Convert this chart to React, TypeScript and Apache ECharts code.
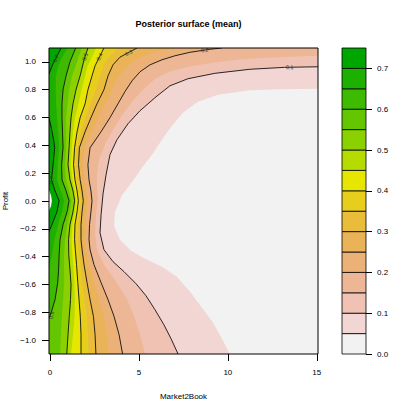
import React, { useEffect, useRef } from "react";
import * as echarts from "echarts";

const FONT = "'Liberation Sans', Arial, Helvetica, sans-serif";

// axis extents (data units)
const xRange = [-0.06, 15.07];
const yRange = [-1.1, 1.1];
const xTicks = [0, 5, 10, 15];
const yTicks = [-1.0, -0.8, -0.6, -0.4, -0.2, 0.0, 0.2, 0.4, 0.6, 0.8, 1.0];
const legendTicks = [0, 0.1, 0.2, 0.3, 0.4, 0.5, 0.6, 0.7];

// colour key (band lower bounds and colours)
const bandBreaks = [0, 0.05, 0.1, 0.15, 0.2, 0.25, 0.3, 0.35, 0.4, 0.45, 0.5, 0.55, 0.6, 0.65, 0.7, 0.75];
const bandColors = [
  "#F2F2F2", "#F1D6D3", "#EFC2B3", "#EDB694", "#ECB176", "#EAB358", "#E9BD3A", "#E7CE1D",
  "#E6E600", "#B6DB00", "#8BD000", "#63C600", "#3EBB00", "#1DB000", "#00A600",
];

// contour boundaries: [Market2Book, Profit]
const z005 = [[15.07,0.807],[12.92,0.803],[11.24,0.796],[9.44,0.764],[8.31,0.713],[7.47,0.634],[6.85,0.540],[6.29,0.440],[5.73,0.333],[5.17,0.239],[4.66,0.146],[4.04,0.040],[3.65,-0.077],[3.60,-0.178],[3.93,-0.278],[4.55,-0.357],[5.34,-0.415],[6.29,-0.472],[7.13,-0.544],[7.87,-0.652],[8.54,-0.767],[9.16,-0.874],[9.66,-0.989],[10.11,-1.1]];
const z010 = [[15.07,0.965],[13.20,0.961],[11.24,0.947],[9.27,0.918],[7.75,0.879],[6.74,0.828],[5.96,0.749],[5.06,0.649],[4.38,0.555],[3.76,0.440],[3.37,0.333],[3.15,0.189],[2.98,0.052],[2.87,-0.098],[2.81,-0.228],[3.03,-0.350],[3.54,-0.436],[4.16,-0.508],[4.83,-0.594],[5.39,-0.680],[5.90,-0.781],[6.40,-0.889],[6.80,-0.989],[7.20,-1.1]];
const z015 = [[15.07,1.044],[13.48,1.037],[12.02,1.029],[10.51,1.015],[9.10,0.994],[7.78,0.965],[6.69,0.929],[5.90,0.879],[5.28,0.807],[4.63,0.717],[4.10,0.627],[3.57,0.519],[3.12,0.415],[2.75,0.297],[2.64,0.189],[2.64,0.081],[2.67,0.002],[2.58,-0.098],[2.53,-0.228],[2.64,-0.350],[3.03,-0.458],[3.76,-0.587],[4.33,-0.709],[4.72,-0.830],[5.06,-0.960],[5.34,-1.1]];
const z020 = [[9.66,1.1],[8.99,1.091],[7.87,1.069],[7.02,1.044],[6.29,1.015],[5.62,0.979],[5.06,0.929],[4.61,0.864],[4.21,0.786],[3.82,0.699],[3.37,0.599],[2.87,0.498],[2.25,0.383],[2.13,0.261],[2.19,0.153],[2.30,0.073],[2.36,0.002],[2.30,-0.077],[2.22,-0.170],[2.19,-0.278],[2.25,-0.350],[2.47,-0.458],[2.87,-0.587],[3.26,-0.709],[3.60,-0.830],[3.88,-0.960],[4.08,-1.1]];
const z025 = [[7.02,1.1],[6.18,1.080],[5.39,1.051],[4.72,1.008],[4.21,0.950],[3.82,0.886],[3.54,0.814],[3.26,0.735],[2.87,0.642],[2.53,0.548],[2.16,0.448],[1.94,0.383],[1.85,0.261],[1.94,0.153],[2.05,0.073],[2.12,0.002],[2.05,-0.077],[1.98,-0.170],[1.97,-0.278],[2.02,-0.350],[2.19,-0.458],[2.47,-0.587],[2.75,-0.709],[3.02,-0.830],[3.20,-0.960],[3.31,-1.1]];
const z030 = [[4.89,1.1],[4.44,1.069],[3.93,1.034],[3.54,0.979],[3.26,0.900],[3.03,0.800],[2.64,0.699],[2.30,0.599],[1.97,0.498],[1.65,0.383],[1.60,0.261],[1.69,0.153],[1.80,0.073],[1.87,0.002],[1.80,-0.077],[1.74,-0.170],[1.74,-0.278],[1.80,-0.350],[1.91,-0.458],[2.08,-0.587],[2.25,-0.709],[2.44,-0.830],[2.53,-0.960],[2.58,-1.1]];
const z035 = [[3.82,1.1],[3.37,1.044],[3.03,0.986],[2.81,0.900],[2.58,0.800],[2.28,0.699],[1.99,0.599],[1.74,0.498],[1.52,0.383],[1.46,0.261],[1.54,0.153],[1.66,0.073],[1.73,0.002],[1.66,-0.077],[1.57,-0.170],[1.56,-0.278],[1.61,-0.350],[1.70,-0.458],[1.81,-0.587],[1.94,-0.709],[2.08,-0.830],[2.13,-0.960],[2.16,-1.1]];
const z040 = [[3.03,1.1],[2.75,1.029],[2.53,0.972],[2.36,0.900],[2.13,0.800],[1.97,0.699],[1.69,0.599],[1.52,0.498],[1.38,0.383],[1.32,0.261],[1.40,0.153],[1.52,0.073],[1.59,0.002],[1.52,-0.077],[1.40,-0.170],[1.38,-0.278],[1.42,-0.350],[1.49,-0.458],[1.56,-0.587],[1.63,-0.709],[1.70,-0.830],[1.74,-0.960],[1.74,-1.1]];
const z045 = [[2.58,1.1],[2.33,1.029],[2.11,0.972],[1.97,0.900],[1.77,0.800],[1.60,0.699],[1.40,0.599],[1.29,0.498],[1.22,0.383],[1.17,0.261],[1.26,0.153],[1.40,0.073],[1.48,0.002],[1.40,-0.077],[1.26,-0.170],[1.21,-0.278],[1.24,-0.350],[1.30,-0.458],[1.37,-0.587],[1.39,-0.709],[1.38,-0.830],[1.29,-0.960],[1.18,-1.1]];
const z050 = [[2.13,1.1],[1.91,1.015],[1.69,0.900],[1.46,0.800],[1.29,0.699],[1.18,0.599],[1.12,0.498],[1.07,0.383],[1.01,0.261],[1.12,0.153],[1.29,0.073],[1.38,0.002],[1.29,-0.077],[1.12,-0.170],[1.04,-0.278],[1.05,-0.386],[1.12,-0.494],[1.18,-0.601],[1.15,-0.709],[1.08,-0.830],[1.01,-0.960],[0.94,-1.1]];
const z055 = [[1.77,1.1],[1.52,1.001],[1.24,0.900],[1.07,0.800],[0.98,0.699],[0.90,0.599],[0.90,0.498],[0.90,0.383],[0.84,0.261],[0.90,0.153],[1.07,0.073],[1.21,0.002],[1.12,-0.077],[0.96,-0.170],[0.84,-0.278],[0.79,-0.386],[0.79,-0.494],[0.79,-0.601],[0.73,-0.709],[0.67,-0.817],[0.62,-0.925],[0.59,-1.032],[0.56,-1.1]];
const z060 = [[1.44,1.1],[1.12,1.001],[0.90,0.900],[0.73,0.800],[0.67,0.699],[0.67,0.599],[0.70,0.498],[0.73,0.383],[0.65,0.261],[0.67,0.153],[0.90,0.073],[1.07,0.002],[0.96,-0.077],[0.73,-0.170],[0.56,-0.278],[0.51,-0.386],[0.48,-0.494],[0.43,-0.587],[0.28,-0.709],[0.08,-0.795],[-0.06,-0.845]];
const z065 = [[1.01,1.1],[0.73,1.044],[0.45,0.972],[0.34,0.900],[0.31,0.800],[0.34,0.699],[0.39,0.599],[0.45,0.498],[0.51,0.383],[0.42,0.261],[0.39,0.153],[0.59,0.073],[0.79,0.002],[0.67,-0.077],[0.45,-0.170],[0.25,-0.278],[0.11,-0.386],[-0.06,-0.494]];
const z070a = [[0.62,1.1],[0.34,1.029],[0.14,0.979],[-0.06,0.914]];
const z070b = [[-0.06,0.600],[0.08,0.520],[0.20,0.440],[0.26,0.383],[0.17,0.261],[0.08,0.153],[0.28,0.073],[0.51,0.002],[0.39,-0.077],[0.17,-0.149],[-0.06,-0.221]];
const z075 = [[-0.06,0.079],[0.06,0.038],[0.10,0.002],[0.06,-0.034],[-0.06,-0.070]];

const contourPieces = [
  { level: 0.05, path: z005 },
  { level: 0.1, path: z010 },
  { level: 0.15, path: z015 },
  { level: 0.2, path: z020 },
  { level: 0.25, path: z025 },
  { level: 0.3, path: z030 },
  { level: 0.35, path: z035 },
  { level: 0.4, path: z040 },
  { level: 0.45, path: z045 },
  { level: 0.5, path: z050 },
  { level: 0.55, path: z055 },
  { level: 0.6, path: z060 },
  { level: 0.65, path: z065 },
  { level: 0.7, path: z070a },
  { level: 0.7, path: z070b },
  { level: 0.75, path: z075 },
];

// contour line labels: text, position, angle (deg)
const labelTexts = ["0.1", "0.2", "0.3", "0.4", "0.5", "0.7", "0.7", "0.6"];
const labelX = [13.48, 8.7, 4.42, 2.78, 1.97, 0.33, 0.08, 0.08];
const labelY = [0.962, 1.085, 1.066, 1.037, 1.037, 1.025, 0.15, -0.82];
const labelAngle = [2, 8, 28, 63, 72, 63, 83, 78];

const eps = 1e-6;
function closeRegion(path: number[][]) {
  const s = path[0];
  const e = path[path.length - 1];
  const onLeft = (p: number[]) => p[0] <= xRange[0] + eps;
  const onRight = (p: number[]) => p[0] >= xRange[1] - eps;
  const onBottom = (p: number[]) => p[1] <= yRange[0] + eps;
  const out = path.slice();
  if (onBottom(e)) out.push([xRange[0], yRange[0]]);
  if (!(onLeft(s) && onLeft(e))) {
    out.push([xRange[0], yRange[1]]);
    if (onRight(s)) out.push([xRange[1], yRange[1]]);
  }
  return out;
}

function fillFor(level: number) {
  const k = Math.round(level / 0.05);
  return k < bandColors.length ? bandColors[k] : "#FFFFFF";
}

const isLineLevel = (l: number) => Math.round(l * 100) % 10 === 0 && l <= 0.7 + eps;
const linePieces = contourPieces.filter((p) => isLineLevel(p.level));

const signed = (v: number) => (v < -1e-9 ? "\u2212" : "") + Math.abs(v).toFixed(1);

const axisText = { fontFamily: FONT, fontSize: 8, color: "#000" };

const option: any = {
  animation: false,
  title: {
    text: "Posterior surface (mean)",
    left: 183.5,
    top: 14,
    textAlign: "center",
    textStyle: { fontFamily: FONT, fontSize: 9, fontWeight: "bold", color: "#000" },
  },
  grid: [
    { left: 49, top: 48, width: 269, height: 306, show: true, backgroundColor: bandColors[0], borderWidth: 0, containLabel: false, outerBoundsMode: "none" },
    { left: 342, top: 48, width: 24, height: 306, show: false, containLabel: false, outerBoundsMode: "none" },
  ],
  xAxis: [
    {
      gridIndex: 0, type: "value", min: xRange[0], max: xRange[1],
      axisLine: { show: false, onZero: false },
      splitLine: { show: false },
      axisTick: { show: true, customValues: xTicks, length: 7, lineStyle: { color: "#000", width: 1 } },
      axisLabel: { customValues: xTicks, margin: 14, ...axisText, formatter: (v: number) => String(v) },
      name: "Market2Book", nameLocation: "middle", nameGap: 38, nameTextStyle: axisText,
    },
    { gridIndex: 1, type: "value", min: 0, max: 1, show: false },
  ],
  yAxis: [
    {
      gridIndex: 0, type: "value", min: yRange[0], max: yRange[1],
      axisLine: { show: false, onZero: false },
      splitLine: { show: false },
      axisTick: { show: true, customValues: yTicks, length: 7, lineStyle: { color: "#000", width: 1 } },
      axisLabel: { customValues: yTicks, margin: 13, ...axisText, formatter: signed },
      name: "Profit", nameLocation: "middle", nameGap: 34, nameTextStyle: axisText,
    },
    {
      gridIndex: 1, type: "value", position: "right", min: 0, max: 0.75,
      axisLine: { show: false, onZero: false },
      splitLine: { show: false },
      axisTick: { show: true, customValues: legendTicks, length: 6, lineStyle: { color: "#000", width: 1 } },
      axisLabel: { customValues: legendTicks, margin: 11, ...axisText, formatter: (v: number) => v.toFixed(1) },
    },
  ],
  series: [
    {
      type: "custom", name: "filled", xAxisIndex: 0, yAxisIndex: 0, clip: true, silent: true, z: 2,
      data: contourPieces.map((p, i) => [p.path[0][0], p.path[0][1], i]),
      encode: { x: 0, y: 1 },
      renderItem: (_params: any, api: any) => {
        const piece = contourPieces[api.value(2)];
        const pts = closeRegion(piece.path).map((p) => api.coord(p));
        return { type: "polygon", shape: { points: pts }, style: { fill: fillFor(piece.level) } };
      },
    },
    {
      type: "custom", name: "lines", xAxisIndex: 0, yAxisIndex: 0, clip: true, silent: true, z: 3,
      data: linePieces.map((p, i) => [p.path[0][0], p.path[0][1], i]),
      encode: { x: 0, y: 1 },
      renderItem: (_params: any, api: any) => {
        const piece = linePieces[api.value(2)];
        const pts = piece.path.map((p) => api.coord(p));
        return { type: "polyline", shape: { points: pts }, style: { stroke: "#111", lineWidth: 0.9, fill: null } };
      },
    },
    {
      type: "custom", name: "labels", xAxisIndex: 0, yAxisIndex: 0, clip: true, silent: true, z: 4,
      data: labelTexts.map((_t, i) => [labelX[i], labelY[i], i]),
      encode: { x: 0, y: 1 },
      renderItem: (_params: any, api: any) => {
        const i = api.value(2);
        const p = api.coord([labelX[i], labelY[i]]);
        return {
          type: "text", x: p[0], y: p[1], rotation: (labelAngle[i] * Math.PI) / 180,
          style: { text: labelTexts[i], fontSize: 5.5, fontFamily: FONT, fill: "#333", align: "center", verticalAlign: "middle" },
        };
      },
    },
    {
      type: "custom", name: "frame", xAxisIndex: 0, yAxisIndex: 0, clip: false, silent: true, z: 5,
      data: [[xRange[0], yRange[0]]],
      renderItem: (_params: any, api: any) => {
        const a = api.coord([xRange[0], yRange[1]]);
        const b = api.coord([xRange[1], yRange[0]]);
        return { type: "rect", shape: { x: a[0], y: a[1], width: b[0] - a[0], height: b[1] - a[1] }, style: { fill: "none", stroke: "#000", lineWidth: 1 } };
      },
    },
    {
      type: "custom", name: "key", xAxisIndex: 1, yAxisIndex: 1, clip: false, silent: true, z: 2,
      data: bandColors.map((_c, i) => [0.5, bandBreaks[i], i]),
      encode: { x: 0, y: 1 },
      renderItem: (_params: any, api: any) => {
        const i = api.value(2);
        const a = api.coord([0, bandBreaks[i + 1]]);
        const b = api.coord([1, bandBreaks[i]]);
        return { type: "rect", shape: { x: a[0], y: a[1], width: b[0] - a[0], height: b[1] - a[1] }, style: { fill: bandColors[i], stroke: "#000", lineWidth: 0.8 } };
      },
    },
  ],
};

export default function App() {
  const ref = useRef<HTMLDivElement>(null);
  useEffect(() => {
    const chart = echarts.init(ref.current as HTMLDivElement, null, { renderer: "svg" });
    chart.setOption(option);
    return () => chart.dispose();
  }, []);
  return <div ref={ref} style={{ position: "absolute", left: 0, top: 0, width: 415, height: 415, background: "#fff" }} />;
}
